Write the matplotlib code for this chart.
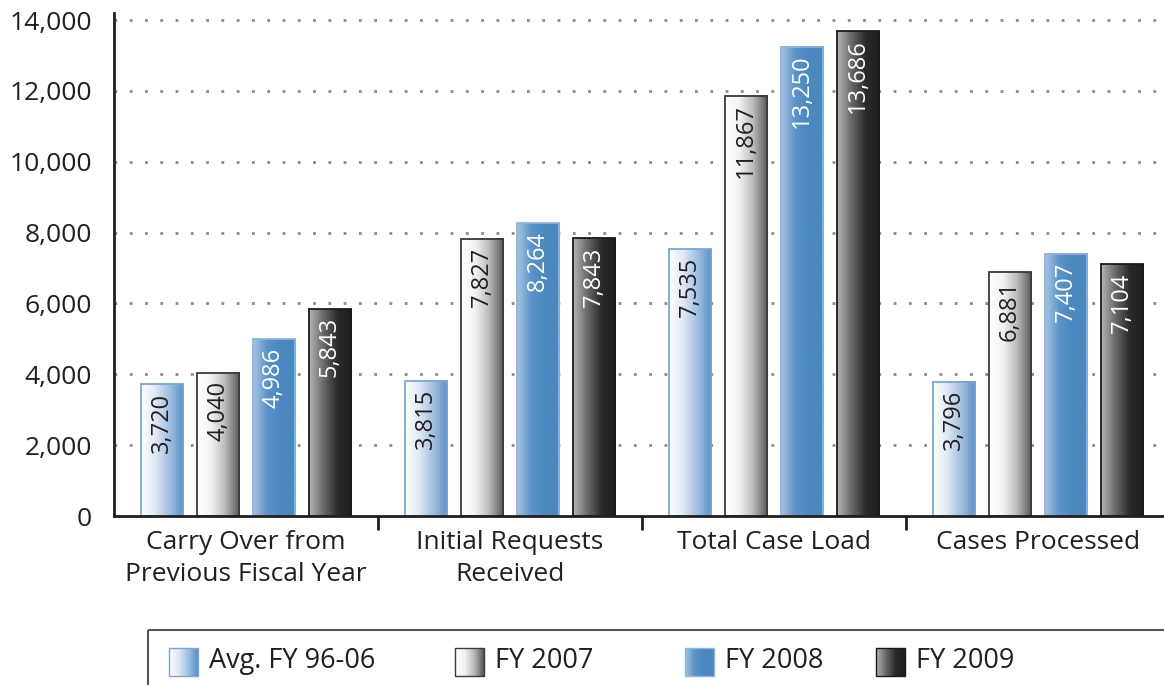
import numpy as np
import matplotlib.pyplot as plt
from matplotlib.colors import LinearSegmentedColormap
from matplotlib.patches import Rectangle

plt.rcParams['font.family'] = ['Open Sans', 'DejaVu Sans']

categories = ['Carry Over from\nPrevious Fiscal Year', 'Initial Requests\nReceived',
              'Total Case Load', 'Cases Processed']
series = ['Avg. FY 96-06', 'FY 2007', 'FY 2008', 'FY 2009']
avg_96_06 = [3720, 3815, 7535, 3796]
fy2007 = [4040, 7827, 11867, 6881]
fy2008 = [4986, 8264, 13250, 7407]
fy2009 = [5843, 7843, 13686, 7104]
values = [avg_96_06, fy2007, fy2008, fy2009]
y_ticks = [0, 2000, 4000, 6000, 8000, 10000, 12000, 14000]

text_color = '#231f20'

# left-to-right gradients for each series
cmaps = [
    LinearSegmentedColormap.from_list('avg', ['#ffffff', '#dfe9f5', '#9fbfe0', '#5a8fc6']),
    LinearSegmentedColormap.from_list('fy07', ['#ffffff', '#f2f2f2', '#b9b9b9', '#555555']),
    LinearSegmentedColormap.from_list('fy08', ['#a9c6e4', '#5a93c8', '#4a88bf', '#4a88bf']),
    LinearSegmentedColormap.from_list('fy09', ['#b5b5b5', '#6a6a6a', '#2a2a2a', '#1f1f1f']),
]
edges = ['#7aa7d6', '#3a3a3a', '#8db5dc', '#1a1a1a']
label_colors = [text_color, text_color, 'white', 'white']

fig = plt.figure(figsize=(11.64, 6.85), dpi=100)
ax = fig.add_axes([114 / 1164, 169 / 685, 1056 / 1164, 503 / 685])

grad = np.linspace(0, 1, 256).reshape(1, -1)
x = np.arange(len(categories))
spacing = 0.212
width = 0.16

for i, vals in enumerate(values):
    off = (i - 1.5) * spacing
    bars = ax.bar(x + off, vals, width, facecolor='none', edgecolor=edges[i],
                  linewidth=1.3, zorder=3)
    for b, v in zip(bars, vals):
        x0 = b.get_x()
        ax.imshow(grad, cmap=cmaps[i], aspect='auto', zorder=2,
                  extent=[x0, x0 + b.get_width(), 0, b.get_height()])
        ax.text(x0 + b.get_width() / 2, v - 230, f'{v:,}', rotation=90,
                ha='center', va='top', fontsize=17, color=label_colors[i], zorder=4)

ax.set_xlim(-0.5, 3.5)
ax.set_ylim(0, 14200)
ax.set_yticks(y_ticks)
ax.set_yticklabels([f'{t:,}' for t in y_ticks])
ax.tick_params(axis='y', length=0, pad=16, labelsize=19, labelcolor=text_color)

ax.set_xticks(x)
ax.set_xticklabels(categories, linespacing=1.35)
ax.tick_params(axis='x', which='major', length=0, pad=10, labelsize=19, labelcolor=text_color)
ax.set_xticks([0.5, 1.5, 2.5], minor=True)
ax.tick_params(axis='x', which='minor', length=10, width=2, color=text_color)

for t in y_ticks[1:]:
    ax.axhline(t, color='#8a8a8a', linestyle=(0, (1, 4.5)), linewidth=2, zorder=1)

for s in ['top', 'right']:
    ax.spines[s].set_visible(False)
for s in ['left', 'bottom']:
    ax.spines[s].set_color(text_color)
    ax.spines[s].set_linewidth(2)
    ax.spines[s].set_zorder(5)

# legend drawn in pixel coordinates
lg = fig.add_axes([0, 0, 1, 1], zorder=-1)
lg.set_xlim(0, 1164)
lg.set_ylim(685, 0)
lg.axis('off')
lg.add_patch(Rectangle((148, 630), 1030, 80, facecolor='none', edgecolor='#555555', lw=1.5))
handle_x = [169, 455, 685, 876]
for i, name in enumerate(series):
    hx = handle_x[i]
    lg.imshow(grad, cmap=cmaps[i], aspect='auto', extent=[hx, hx + 29, 676, 648])
    lg.add_patch(Rectangle((hx, 648), 29, 28, facecolor='none', edgecolor=edges[i], lw=1))
    lg.text(hx + 40, 661, name, va='center', ha='left', fontsize=19.5, color=text_color)
lg.set_xlim(0, 1164)
lg.set_ylim(685, 0)

fig.savefig('out.png', dpi=100)
